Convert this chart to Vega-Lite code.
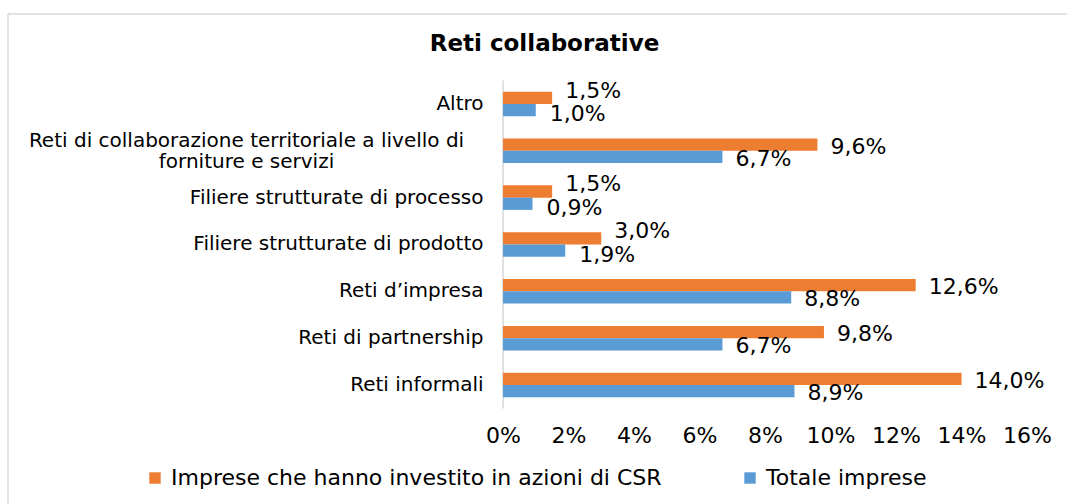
{
  "$schema": "https://vega.github.io/schema/vega-lite/v6.json",
  "width": 1059,
  "height": 490,
  "autosize": {"type": "none"},
  "padding": {"left": 8, "top": 14, "right": 0, "bottom": 0},
  "title": {
    "text": "Reti collaborative",
    "anchor": "middle",
    "frame": "group",
    "offset": -42,
    "dx": 7,
    "fontSize": 23,
    "font": "DejaVu Sans",
    "fontWeight": "bold",
    "color": "#000000"
  },
  "config": {
    "locale": {"number": {"decimal": ",", "thousands": ".", "grouping": [3], "currency": ["€", ""]}},
    "view": {"stroke": "#d9d9d9", "strokeWidth": 1.5, "strokeDash": [1059, 1549, 490, 0]},
    "font": "DejaVu Sans",
    "axis": {"grid": false, "ticks": false, "tickSize": 0, "domain": false},
    "tick": {"bandSize": 47}
  },
  "data": {
    "values": [
      {"categoria": "Altro", "serie": "Imprese che hanno investito in azioni di CSR", "valore": 0.015},
      {"categoria": "Altro", "serie": "Totale imprese", "valore": 0.010},
      {"categoria": "Reti di collaborazione territoriale a livello di forniture e servizi", "serie": "Imprese che hanno investito in azioni di CSR", "valore": 0.096},
      {"categoria": "Reti di collaborazione territoriale a livello di forniture e servizi", "serie": "Totale imprese", "valore": 0.067},
      {"categoria": "Filiere strutturate di processo", "serie": "Imprese che hanno investito in azioni di CSR", "valore": 0.015},
      {"categoria": "Filiere strutturate di processo", "serie": "Totale imprese", "valore": 0.009},
      {"categoria": "Filiere strutturate di prodotto", "serie": "Imprese che hanno investito in azioni di CSR", "valore": 0.030},
      {"categoria": "Filiere strutturate di prodotto", "serie": "Totale imprese", "valore": 0.019},
      {"categoria": "Reti d’impresa", "serie": "Imprese che hanno investito in azioni di CSR", "valore": 0.126},
      {"categoria": "Reti d’impresa", "serie": "Totale imprese", "valore": 0.088},
      {"categoria": "Reti di partnership", "serie": "Imprese che hanno investito in azioni di CSR", "valore": 0.098},
      {"categoria": "Reti di partnership", "serie": "Totale imprese", "valore": 0.067},
      {"categoria": "Reti informali", "serie": "Imprese che hanno investito in azioni di CSR", "valore": 0.140},
      {"categoria": "Reti informali", "serie": "Totale imprese", "valore": 0.089}
    ]
  },
  "encoding": {
    "y": {
      "field": "categoria",
      "type": "nominal",
      "sort": ["Altro", "Reti di collaborazione territoriale a livello di forniture e servizi", "Filiere strutturate di processo", "Filiere strutturate di prodotto", "Reti d’impresa", "Reti di partnership", "Reti informali"],
      "scale": {"range": [66.5, 394.45], "paddingInner": 0.477, "paddingOuter": 0.2385, "align": 0.5},
      "axis": {
        "title": null,
        "orient": "left",
        "offset": -495,
        "labelPadding": {"condition": {"test": "datum.value == 'Reti di collaborazione territoriale a livello di forniture e servizi'", "value": 257}, "value": 20},
        "labelAlign": {"condition": {"test": "datum.value == 'Reti di collaborazione territoriale a livello di forniture e servizi'", "value": "center"}, "value": "right"},
        "labelOffset": {"condition": {"test": "datum.value == 'Reti di collaborazione territoriale a livello di forniture e servizi'", "value": -10}, "value": 0},
        "labelFontSize": 20,
        "labelFont": "DejaVu Sans",
        "labelColor": "#000000",
        "labelLimit": 0,
        "labelLineHeight": 21,
        "labelExpr": "datum.value == 'Reti di collaborazione territoriale a livello di forniture e servizi' ? ['Reti di collaborazione territoriale a livello di', 'forniture e servizi'] : datum.value"
      }
    }
  },
  "layer": [
    {
      "mark": {"type": "tick", "orient": "vertical", "color": "#d9d9d9", "thickness": 1.5, "size": 47},
      "encoding": {
        "x": {"datum": 0, "type": "quantitative"}
      }
    },
    {
      "mark": {"type": "bar"},
      "encoding": {
        "x": {
          "field": "valore",
          "type": "quantitative",
          "scale": {"domain": [-0.15115, 0.17221], "nice": false, "zero": false},
          "axis": {
            "title": null,
            "orient": "bottom",
            "offset": -83,
            "labelPadding": 4,
            "values": [0, 0.02, 0.04, 0.06, 0.08, 0.1, 0.12, 0.14, 0.16],
            "format": ".0%",
            "labelFontSize": 22,
            "labelFont": "DejaVu Sans",
            "labelColor": "#000000"
          }
        },
        "x2": {"datum": 0},
        "yOffset": {
          "field": "serie",
          "type": "nominal",
          "sort": ["Imprese che hanno investito in azioni di CSR", "Totale imprese"],
          "scale": {"paddingInner": 0, "paddingOuter": 0}
        },
        "color": {
          "field": "serie",
          "type": "nominal",
          "scale": {"domain": ["Imprese che hanno investito in azioni di CSR", "Totale imprese"], "range": ["#ED7D31", "#5B9BD5"]},
          "legend": {
            "orient": "none",
            "legendX": 136,
            "legendY": 453,
            "direction": "horizontal",
            "title": null,
            "symbolType": "square",
            "symbolSize": 130,
            "symbolStrokeWidth": 0,
            "labelFontSize": 22,
            "labelFont": "DejaVu Sans",
            "labelColor": "#000000",
            "labelLimit": 0,
            "labelOffset": 5,
            "columnPadding": 77,
            "padding": 0
          }
        }
      }
    },
    {
      "transform": [{"filter": "datum.valore >= 0.05"}],
      "mark": {"type": "text", "align": "left", "baseline": "middle", "dx": 13, "dy": 2, "fontSize": 22, "font": "DejaVu Sans", "color": "#000000"},
      "encoding": {
        "x": {"field": "valore", "type": "quantitative"},
        "yOffset": {
          "field": "serie",
          "type": "nominal",
          "sort": ["Imprese che hanno investito in azioni di CSR", "Totale imprese"]
        },
        "text": {"field": "valore", "type": "quantitative", "format": ".1%"}
      }
    },
    {
      "transform": [{"filter": "datum.valore < 0.05 && datum.serie == 'Imprese che hanno investito in azioni di CSR'"}],
      "mark": {"type": "text", "align": "left", "baseline": "middle", "dx": 13, "dy": -7, "fontSize": 22, "font": "DejaVu Sans", "color": "#000000"},
      "encoding": {
        "x": {"field": "valore", "type": "quantitative"},
        "yOffset": {
          "field": "serie",
          "type": "nominal",
          "sort": ["Imprese che hanno investito in azioni di CSR", "Totale imprese"]
        },
        "text": {"field": "valore", "type": "quantitative", "format": ".1%"}
      }
    },
    {
      "transform": [{"filter": "datum.valore < 0.05 && datum.serie == 'Totale imprese'"}],
      "mark": {"type": "text", "align": "left", "baseline": "middle", "dx": 14, "dy": 4, "fontSize": 22, "font": "DejaVu Sans", "color": "#000000"},
      "encoding": {
        "x": {"field": "valore", "type": "quantitative"},
        "yOffset": {
          "field": "serie",
          "type": "nominal",
          "sort": ["Imprese che hanno investito in azioni di CSR", "Totale imprese"]
        },
        "text": {"field": "valore", "type": "quantitative", "format": ".1%"}
      }
    }
  ]
}
